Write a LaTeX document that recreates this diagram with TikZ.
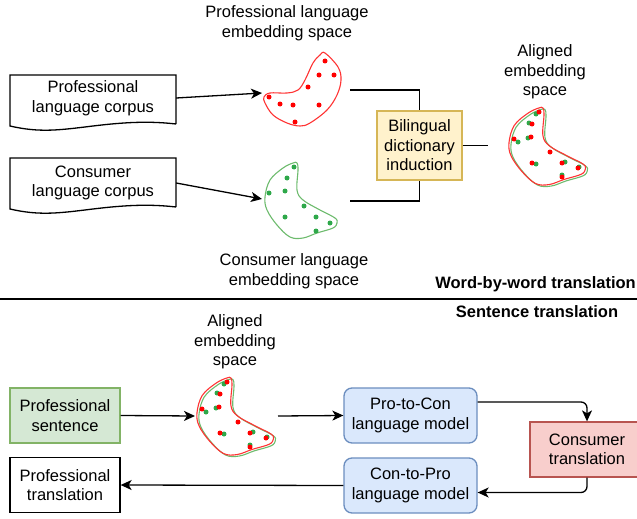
\documentclass[tikz,border=0pt]{standalone}
\usepackage{fontspec}
\setmainfont{Liberation Sans}
\usetikzlibrary{arrows.meta}
\definecolor{yfill}{HTML}{FFF2CC}\definecolor{ydraw}{HTML}{D6B656}
\definecolor{gfill}{HTML}{D5E8D4}\definecolor{gdraw}{HTML}{82B366}
\definecolor{bfill}{HTML}{DAE8FC}\definecolor{bdraw}{HTML}{6C8EBF}
\definecolor{rfill}{HTML}{F8CECC}\definecolor{rdraw}{HTML}{B85450}
\definecolor{redline}{HTML}{FF3333}\definecolor{reddot}{HTML}{FF0000}
\definecolor{greenline}{HTML}{6DBB6D}\definecolor{greendot}{HTML}{2EA84A}
\newcommand\greenshape[1]{\draw[#1] plot[smooth cycle, tension=0.6] coordinates {(32,1) (33,8) (32,28) (38,38) (55,48) (70,56) (72,61) (68,66) (52,71) (38,76) (25,75) (12,63) (2,48) (0,35) (5,18) (18,6) (28,1)};}
\newcommand\redshape[1]{\draw[#1] plot[smooth cycle, tension=0.6] coordinates {(62,0) (75,14) (78,27) (74,42) (64,57) (47,70) (37,73) (24,70) (10,62) (2,50) (1,44) (7,40) (24,40) (35,37) (42,27) (50,10) (57,2)};}
\newcommand\alignedblob[2]{%
  \begin{scope}[shift={(#1,#2)}]
    \begin{scope}[shift={(2,1.5)},xscale=1.06,yscale=1.02]\greenshape{greenline, line width=1.1pt}\end{scope}
    \begin{scope}[xscale=1.06,yscale=1.02]\greenshape{redline, line width=1.1pt}\end{scope}
    \foreach \p in {(27,7),(20,16),(9,35),(19,31),(27,57),(56,55),(70,60),(53,68)} \fill[greendot] \p circle (2.5);
    \foreach \p in {(30,5),(23,17),(5,32),(22,30),(41,45),(23,56),(53,56),(69,61),(53,70)} \fill[reddot] \p circle (2.5);
  \end{scope}}
\begin{document}
\begin{tikzpicture}[x=1pt,y=-1pt, font=\fontsize{16.5}{19.5}\selectfont,
  arr/.style={-{Stealth[length=11pt,width=10pt,inset=3pt]}, line width=1.3pt},
  ln/.style={line width=1.3pt},
  txt/.style={align=center, inner sep=0pt},
  boxst/.style={draw, line width=1.3pt, align=center, inner sep=0pt},
  ]
\useasboundingbox (0,0) rectangle (637,519);

% ---------- upper half ----------
\draw[ln] (176,124) -- (176,75) -- (10,75) -- (10,126) .. controls (40,133) and (60,130) .. (93,126) .. controls (126,122) and (150,121) .. (176,124);
\node[txt, minimum width=166pt, minimum height=44pt] (pcorp) at (93,98) {Professional\\language corpus};
\draw[ln] (176,207) -- (176,158) -- (10,158) -- (10,209) .. controls (40,216) and (60,213) .. (93,209) .. controls (126,205) and (150,204) .. (176,207);
\node[txt, minimum width=166pt, minimum height=44pt] (ccorp) at (93,183) {Consumer\\language corpus};

% red blob
\begin{scope}[shift={(263,53)}]
  \redshape{redline, line width=1.1pt}
  \foreach \p in {(62,8),(56,22),(71,22),(45,34),(6,44),(17,51),(30,52),(56,52),(32,69)} \fill[reddot] \p circle (2.5);
\end{scope}
\coordinate (redin) at (262,93);
\coordinate (redout) at (350,90);
\node[txt] (ptitle) at (287,23) {Professional language\\embedding space};

% green blob
\begin{scope}[shift={(265,162)}]
  \greenshape{greenline, line width=1.1pt}
  \foreach \p in {(29,5),(22,16),(4,31),(20,29),(39,44),(20,55),(51,55),(65,61),(51,69)} \fill[greendot] \p circle (2.5);
\end{scope}
\coordinate (greenin) at (262,199);
\coordinate (greenout) at (350,201);
\node[txt] (ctitle) at (294,271) {Consumer language\\embedding space};

\draw[arr] (pcorp.east) -- (redin);
\draw[arr] (ccorp.east) -- (greenin);

\node[boxst, fill=yfill, draw=ydraw, minimum width=85pt, minimum height=69pt] (bdi) at (419.5,145.5) {Bilingual\\dictionary\\induction};
\draw[ln] (redout) -| (bdi.north);
\draw[ln] (greenout) -| (bdi.south);
\coordinate (alignin) at (488,145.5);
\draw[ln] (bdi.east) -- (alignin);

\alignedblob{509}{107}
\node[txt] (atitle) at (545,72) {Aligned\\embedding\\space};

% ---------- separator ----------
\coordinate (sepl) at (0,299);
\coordinate (sepr) at (637,299);
\draw[ln] (sepl) -- (sepr);
\node[txt, anchor=east, font=\fontsize{16.5}{19.5}\selectfont\bfseries] (wbw) at (636,284) {Word-by-word translation};
\node[txt, font=\fontsize{16.5}{19.5}\selectfont\bfseries] (sent) at (537,312) {Sentence translation};

% ---------- lower half ----------
\node[boxst, fill=gfill, draw=gdraw, minimum width=110pt, minimum height=55pt] (psent) at (65,415.5) {Professional\\sentence};
\alignedblob{197}{377}
\node[txt] (atitle2) at (235,342) {Aligned\\embedding\\space};
\coordinate (blobin) at (195,416);
\coordinate (blobout) at (278,416);
\draw[arr] (psent.east) -- (blobin);

\node[boxst, fill=bfill, draw=bdraw, rounded corners=8pt, minimum width=133pt, minimum height=55pt] (p2c) at (410.5,415.5) {Pro-to-Con\\language model};
\draw[arr] (blobout) -- (p2c.west);

\node[boxst, fill=rfill, draw=rdraw, minimum width=114pt, minimum height=55pt] (ctrans) at (587,449.5) {Consumer\\translation};
\node[boxst, fill=bfill, draw=bdraw, rounded corners=8pt, minimum width=133pt, minimum height=55pt] (c2p) at (410.5,485.5) {Con-to-Pro\\language model};
\node[boxst, fill=white, draw=black, minimum width=110pt, minimum height=55pt] (ptrans) at (65,485) {Professional\\translation};

\draw[arr, rounded corners=6pt] ([yshift=13.5pt]p2c.east) -| (ctrans.north);
\draw[arr, rounded corners=6pt] (ctrans.south) |- ([yshift=-7pt]c2p.east);
\draw[arr] (c2p.west) -- (ptrans.east);
\end{tikzpicture}
\end{document}
